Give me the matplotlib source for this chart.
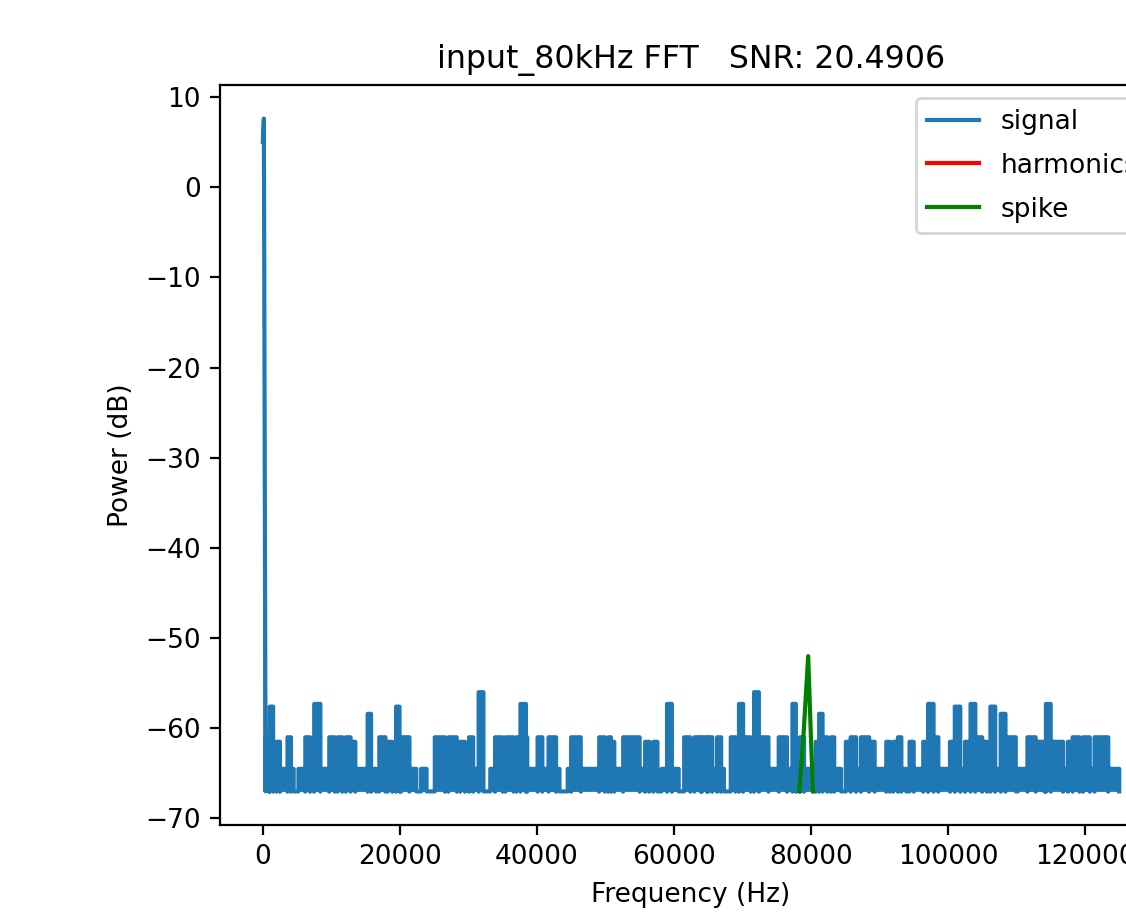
import matplotlib
matplotlib.use("Agg")
import matplotlib.pyplot as plt
import numpy as np

plt.rcParams["font.size"] = 9.5

# noise floor of the spectrum (dB)
floor_db = -67.0

# main tone near DC (kHz, dB)
peak_khz = [0.0, 0.15]
peak_db = [5.0, 7.6]

# noise blocks: start (kHz), end (kHz), level (dB)
seg_start = [0.4, 0.9, 1.0, 1.5, 2.0, 2.5, 3.6, 4.1, 5.2, 6.2, 6.9, 7.5, 8.4, 9.7, 10.5, 10.9,
             11.6, 12.1, 12.8, 13.5, 15.3, 15.8, 17.0, 17.9, 18.2, 18.9, 19.45, 19.95, 20.2,
             21.4, 23.1, 25.1, 26.6, 27.1, 28.3, 28.8, 29.5, 30.1, 30.7, 31.5, 33.2, 33.9,
             35.0, 35.4, 36.6, 37.0, 37.6, 38.4, 38.6, 40.1, 40.8, 41.7, 42.8, 44.5, 45.0,
             46.4, 49.1, 49.9, 50.4, 50.8, 51.3, 52.6, 55.0, 55.8, 56.4, 57.0, 58.2, 59.0,
             59.7, 61.5, 62.4, 63.0, 63.9, 64.1, 64.8, 65.0, 65.6, 66.3, 66.9, 68.3, 69.0,
             69.5, 70.1, 71.2, 71.7, 72.4, 73.8, 75.3, 76.5, 77.3, 77.8, 78.4, 79.0, 80.7,
             81.2, 81.7, 82.4, 82.9, 83.4, 85.1, 85.8, 86.6, 87.3, 88.5, 89.3, 91.0, 91.5,
             92.0, 92.7, 93.2, 94.4, 95.0, 96.4, 97.1, 97.9, 98.6, 100.3, 101.0, 101.8,
             102.5, 103.3, 104.0, 105.0, 105.7, 106.2, 106.9, 107.7, 108.4, 110.2, 111.6,
             112.8, 114.1, 114.3, 115.0, 116.8, 117.5, 118.2, 119.2, 119.7, 120.7, 121.4,
             123.4]
seg_end = [0.9, 1.0, 1.5, 2.0, 2.5, 3.6, 4.1, 4.5, 6.2, 6.9, 7.5, 8.4, 9.7, 10.5, 10.9, 11.6,
           12.1, 12.8, 13.5, 15.3, 15.8, 16.5, 17.9, 18.2, 18.9, 19.45, 19.95, 20.2, 21.4,
           22.4, 23.9, 26.6, 27.1, 28.3, 28.8, 29.5, 30.1, 30.7, 31.5, 32.2, 33.9, 35.0,
           35.4, 36.6, 37.0, 37.6, 38.4, 38.6, 40.1, 40.8, 41.7, 42.8, 43.3, 45.0, 46.4,
           49.1, 49.9, 50.4, 50.8, 51.3, 52.6, 55.0, 55.8, 56.4, 57.0, 57.6, 59.0, 59.7,
           60.7, 62.4, 63.0, 63.9, 64.1, 64.8, 65.0, 65.6, 66.3, 66.9, 67.3, 69.0, 69.5,
           70.1, 71.2, 71.7, 72.4, 73.8, 75.3, 76.5, 77.3, 77.8, 78.4, 79.0, 80.7, 81.2,
           81.7, 82.4, 82.9, 83.4, 84.4, 85.8, 86.6, 87.3, 88.5, 89.3, 91.0, 91.5, 92.0,
           92.7, 93.2, 93.9, 95.0, 96.4, 97.1, 97.9, 98.6, 100.3, 101.0, 101.8, 102.5,
           103.3, 104.0, 105.0, 105.7, 106.2, 106.9, 107.7, 108.4, 109.9, 111.6, 112.8,
           114.1, 114.3, 115.0, 116.8, 117.5, 118.2, 119.2, 119.7, 120.7, 121.4, 123.4,
           125.0]
seg_db = [-61, -64.5, -57.6, -64.5, -61.5, -64.5, -61, -64.5, -64.5, -61, -64.5, -57.3, -64.5,
          -61, -64.5, -61, -64.5, -61, -61.5, -64.5, -58.4, -64.5, -61, -64.5, -61.5, -64.5,
          -57.6, -64.5, -61, -64.5, -64.5, -61, -61.5, -61, -64.5, -61.5, -64.5, -61, -64.5,
          -56, -64.5, -61, -64.5, -61, -64.5, -61, -57.3, -61, -64.5, -61, -64.5, -61, -64.5,
          -64.5, -61, -64.5, -61, -64.5, -61, -61.5, -64.5, -61, -64.5, -61.5, -64.5, -61.5,
          -64.5, -57.3, -64.5, -61, -61.5, -61, -64.5, -61, -64.5, -61, -64.5, -61, -64.5,
          -61, -64.5, -57.3, -61, -64.5, -56, -61, -64.5, -61, -64.5, -57.3, -64.5, -61,
          -64.5, -61.5, -58.4, -61, -64.5, -61, -64.5, -61.5, -61, -64.5, -61, -61.5, -64.5,
          -61.5, -64.5, -61.5, -61, -64.5, -61.5, -64.5, -61.5, -57.3, -61, -64.5, -61.5,
          -57.6, -64.5, -61.5, -57.3, -61, -61.5, -64.5, -57.6, -64.5, -58.4, -61, -64.5,
          -61, -61.5, -64.5, -57.3, -61.5, -64.5, -61.5, -61, -64.5, -61, -64.5, -61, -64.5]

# spike around 80 kHz (kHz, dB)
spike_khz = [78.3, 78.9, 79.6, 80.0, 80.3]
spike_db = [-67, -61, -52, -61, -67]

# harmonics (none inside the band)
harm_khz = []
harm_db = []

# build the signal trace from the blocks
xs = list(peak_khz)
ys = list(peak_db)
for s, e, lvl in zip(seg_start, seg_end, seg_db):
    xs += [s, s, e, e]
    ys += [floor_db, lvl, lvl, floor_db]
xs.append(125.0)
ys.append(floor_db)
xs = np.array(xs) * 1000
ys = np.array(ys)

fig = plt.figure(figsize=(5.63, 4.605), dpi=200)
ax = fig.add_axes([0.1954, 0.1042, 0.8366, 0.8035])

ax.fill_between(xs, floor_db, ys, color="C0", linewidth=0)
ax.plot(xs, ys, color="C0", label="signal")
ax.plot(np.array(harm_khz) * 1000, harm_db, color="r", label="harmonics")
ax.plot(np.array(spike_khz) * 1000, spike_db, color="g", label="spike")

ax.set_yticks(np.arange(-70, 11, 10))
ax.set_title("input_80kHz FFT   SNR: 20.4906", fontsize=11.4)
ax.set_xlabel("Frequency (Hz)")
ax.set_ylabel("Power (dB)")
ax.legend(loc="upper right", labelspacing=0.68, borderaxespad=0.5)

fig.savefig("out.png", dpi=200)
